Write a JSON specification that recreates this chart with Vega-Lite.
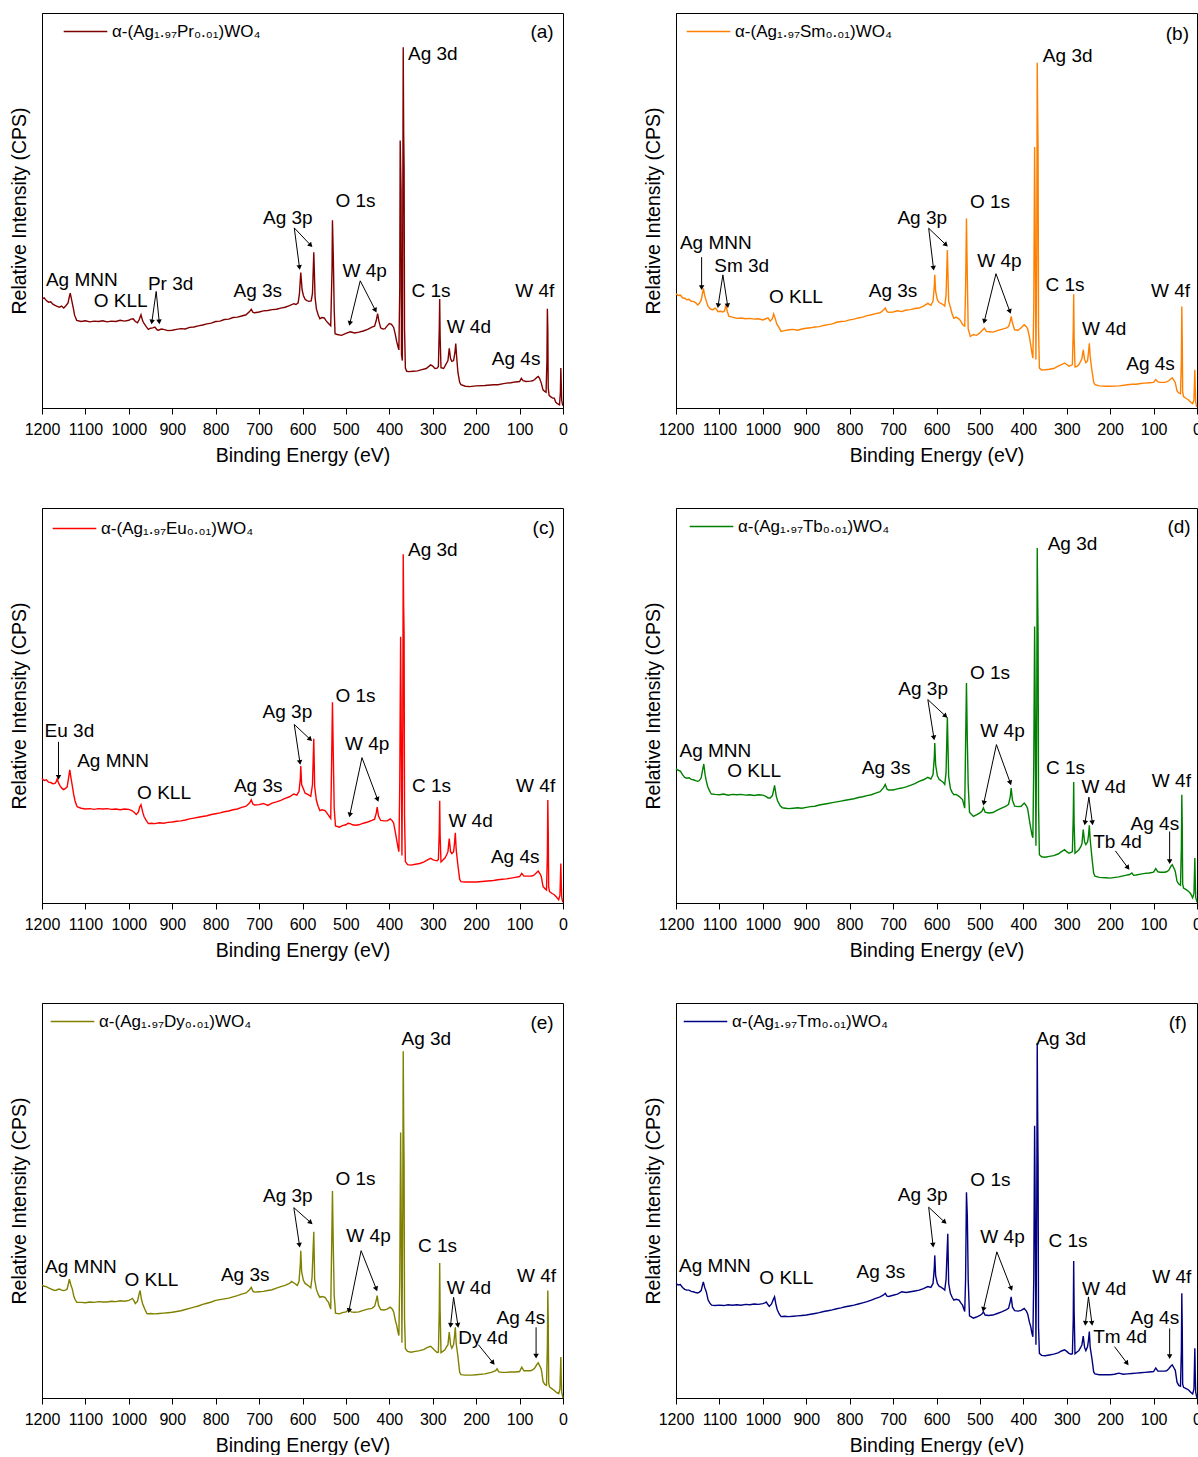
{
"$schema": "https://vega.github.io/schema/vega-lite/v6.json",
"padding": {"left": 8, "top": 8, "right": 0, "bottom": 0},
"background": "white",
"columns": 2,
"spacing": {"row": 100, "column": 113},
"bounds": "flush",
"resolve": {"scale": {"color": "independent"}, "legend": {"color": "independent"}},
"config": {
 "font": "Liberation Sans",
 "view": {"stroke": "black", "strokeWidth": 1},
 "axis": {"domainColor": "black", "tickColor": "black", "labelColor": "black", "titleColor": "black", "labelFont": "Liberation Sans", "titleFont": "Liberation Sans", "titleFontWeight": "normal", "grid": false},
 "axisX": {"values": [1200,1150,1100,1050,1000,950,900,850,800,750,700,650,600,550,500,450,400,350,300,250,200,150,100,50,0], "format": "d", "labelExpr": "datum.value % 100 == 0 ? datum.label : ''", "tickSize": {"condition": {"test": "datum.value % 100 == 0", "value": 6}, "value": 3}, "labelFontSize": 16, "titleFontSize": 19.5, "labelPadding": 7, "titlePadding": 9, "labelFlush": false, "labelOverlap": false},
 "axisY": {"labels": false, "ticks": false, "titleFontSize": 19.5, "titlePadding": 13},
 "text": {"font": "Liberation Sans", "fontSize": 19, "color": "black"},
 "legend": {"labelFont": "Liberation Sans"}
},
"datasets": {
"a": [{"e":1200,"i":27.6},{"e":1195,"i":27.9},{"e":1190,"i":27.2},{"e":1185,"i":26.8},{"e":1180,"i":26.9},{"e":1175,"i":26.3},{"e":1170,"i":26.0},{"e":1165,"i":25.7},{"e":1160,"i":25.5},{"e":1155,"i":25.8},{"e":1150,"i":25.3},{"e":1145,"i":25.9},{"e":1140,"i":26.6},{"e":1137,"i":28.2},{"e":1135,"i":29.1},{"e":1132,"i":27.5},{"e":1130,"i":26.4},{"e":1127,"i":24.8},{"e":1125,"i":23.5},{"e":1120,"i":22.2},{"e":1110,"i":21.9},{"e":1100,"i":22.1},{"e":1090,"i":21.8},{"e":1080,"i":22.0},{"e":1070,"i":21.9},{"e":1060,"i":22.1},{"e":1050,"i":21.8},{"e":1040,"i":22.0},{"e":1030,"i":21.9},{"e":1020,"i":22.2},{"e":1010,"i":22.0},{"e":1000,"i":22.2},{"e":995,"i":22.5},{"e":990,"i":22.6},{"e":985,"i":21.9},{"e":980,"i":21.6},{"e":976,"i":22.4},{"e":972,"i":23.6},{"e":968,"i":22.0},{"e":965,"i":21.4},{"e":960,"i":20.6},{"e":955,"i":19.9},{"e":950,"i":20.2},{"e":945,"i":20.3},{"e":940,"i":20.5},{"e":935,"i":19.8},{"e":932,"i":19.7},{"e":925,"i":20.0},{"e":920,"i":19.9},{"e":910,"i":19.6},{"e":900,"i":19.7},{"e":890,"i":19.9},{"e":880,"i":20.1},{"e":870,"i":20.0},{"e":860,"i":20.4},{"e":850,"i":20.5},{"e":840,"i":20.8},{"e":830,"i":21.0},{"e":820,"i":21.3},{"e":810,"i":21.5},{"e":800,"i":21.9},{"e":790,"i":22.0},{"e":780,"i":22.4},{"e":770,"i":22.5},{"e":760,"i":22.9},{"e":750,"i":23.0},{"e":740,"i":23.3},{"e":730,"i":23.6},{"e":722,"i":24.4},{"e":718,"i":25.0},{"e":714,"i":24.2},{"e":710,"i":24.1},{"e":700,"i":24.3},{"e":690,"i":24.6},{"e":680,"i":24.7},{"e":670,"i":24.9},{"e":660,"i":25.0},{"e":650,"i":25.3},{"e":640,"i":25.5},{"e":630,"i":25.9},{"e":620,"i":26.4},{"e":615,"i":26.2},{"e":610,"i":26.6},{"e":607,"i":29.0},{"e":604,"i":34.3},{"e":601,"i":30.0},{"e":598,"i":28.5},{"e":594,"i":27.5},{"e":590,"i":27.2},{"e":585,"i":27.0},{"e":580,"i":27.1},{"e":577,"i":29.0},{"e":574,"i":39.4},{"e":571,"i":28.0},{"e":568,"i":25.1},{"e":564,"i":23.6},{"e":560,"i":22.6},{"e":555,"i":22.9},{"e":550,"i":22.8},{"e":545,"i":22.0},{"e":540,"i":21.4},{"e":535,"i":20.8},{"e":532,"i":35.0},{"e":531,"i":47.5},{"e":529,"i":38.0},{"e":527,"i":25.0},{"e":525,"i":18.8},{"e":520,"i":18.6},{"e":510,"i":18.4},{"e":500,"i":18.9},{"e":490,"i":19.3},{"e":480,"i":19.0},{"e":470,"i":19.2},{"e":460,"i":19.5},{"e":450,"i":19.9},{"e":440,"i":20.5},{"e":434,"i":20.7},{"e":430,"i":22.2},{"e":427,"i":23.9},{"e":424,"i":22.0},{"e":420,"i":20.3},{"e":415,"i":20.0},{"e":410,"i":20.1},{"e":405,"i":20.8},{"e":400,"i":21.4},{"e":395,"i":21.2},{"e":390,"i":20.4},{"e":386,"i":18.5},{"e":383,"i":16.8},{"e":380,"i":15.5},{"e":378,"i":14.7},{"e":376,"i":30.0},{"e":375,"i":67.7},{"e":373,"i":55.0},{"e":372,"i":13.5},{"e":370,"i":12.0},{"e":369,"i":50.0},{"e":368,"i":91.3},{"e":367,"i":70.0},{"e":366,"i":61.1},{"e":365,"i":20.0},{"e":363,"i":10.1},{"e":360,"i":9.3},{"e":355,"i":9.2},{"e":345,"i":9.3},{"e":335,"i":9.4},{"e":325,"i":9.7},{"e":315,"i":10.0},{"e":305,"i":10.9},{"e":300,"i":10.6},{"e":295,"i":10.0},{"e":290,"i":10.1},{"e":287,"i":10.5},{"e":285,"i":20.0},{"e":284,"i":27.6},{"e":283,"i":18.0},{"e":281,"i":10.2},{"e":275,"i":10.0},{"e":270,"i":11.0},{"e":265,"i":12.0},{"e":262,"i":15.1},{"e":259,"i":12.5},{"e":256,"i":11.8},{"e":252,"i":12.0},{"e":249,"i":14.0},{"e":247,"i":16.3},{"e":245,"i":13.0},{"e":242,"i":9.0},{"e":238,"i":6.5},{"e":235,"i":5.9},{"e":225,"i":5.5},{"e":215,"i":5.4},{"e":200,"i":5.6},{"e":180,"i":5.7},{"e":160,"i":5.9},{"e":150,"i":5.9},{"e":140,"i":6.1},{"e":130,"i":6.3},{"e":120,"i":6.4},{"e":110,"i":6.6},{"e":100,"i":6.7},{"e":96,"i":7.5},{"e":92,"i":6.9},{"e":85,"i":6.7},{"e":75,"i":6.8},{"e":70,"i":6.9},{"e":65,"i":7.2},{"e":60,"i":7.8},{"e":57,"i":8.0},{"e":54,"i":7.5},{"e":50,"i":6.3},{"e":46,"i":4.6},{"e":42,"i":4.2},{"e":39,"i":4.0},{"e":37,"i":12.0},{"e":36,"i":25.1},{"e":35,"i":20.0},{"e":34,"i":5.0},{"e":32,"i":3.2},{"e":28,"i":2.8},{"e":24,"i":2.5},{"e":20,"i":2.5},{"e":17,"i":1.5},{"e":14,"i":1.2},{"e":10,"i":0.9},{"e":8,"i":0.8},{"e":6,"i":4.0},{"e":5,"i":10.1},{"e":4,"i":6.0},{"e":3,"i":2.0},{"e":1,"i":0.8},{"e":0,"i":0.6}],
"b": [{"e":1200,"i":28.9},{"e":1195,"i":28.5},{"e":1190,"i":28.6},{"e":1185,"i":27.9},{"e":1180,"i":27.8},{"e":1175,"i":27.4},{"e":1170,"i":27.5},{"e":1165,"i":27.0},{"e":1160,"i":27.0},{"e":1155,"i":26.7},{"e":1150,"i":26.1},{"e":1146,"i":26.5},{"e":1142,"i":27.3},{"e":1139,"i":29.0},{"e":1137,"i":30.3},{"e":1134,"i":28.5},{"e":1130,"i":27.0},{"e":1126,"i":25.7},{"e":1120,"i":25.0},{"e":1115,"i":24.9},{"e":1110,"i":25.3},{"e":1107,"i":25.0},{"e":1103,"i":24.4},{"e":1098,"i":24.5},{"e":1092,"i":24.3},{"e":1088,"i":24.6},{"e":1085,"i":26.1},{"e":1082,"i":24.5},{"e":1078,"i":23.2},{"e":1070,"i":23.0},{"e":1060,"i":22.7},{"e":1050,"i":22.8},{"e":1040,"i":22.6},{"e":1030,"i":22.7},{"e":1020,"i":22.5},{"e":1010,"i":22.6},{"e":1000,"i":22.3},{"e":993,"i":22.6},{"e":988,"i":22.8},{"e":983,"i":22.0},{"e":978,"i":22.6},{"e":975,"i":23.8},{"e":971,"i":22.5},{"e":968,"i":21.3},{"e":962,"i":20.2},{"e":958,"i":19.4},{"e":950,"i":19.6},{"e":940,"i":19.8},{"e":930,"i":19.9},{"e":920,"i":19.7},{"e":910,"i":20.0},{"e":900,"i":20.2},{"e":890,"i":20.3},{"e":880,"i":20.5},{"e":870,"i":20.6},{"e":860,"i":20.9},{"e":850,"i":21.1},{"e":840,"i":21.3},{"e":830,"i":21.7},{"e":820,"i":21.9},{"e":810,"i":22.0},{"e":800,"i":22.3},{"e":790,"i":22.5},{"e":780,"i":22.8},{"e":770,"i":23.0},{"e":760,"i":23.4},{"e":750,"i":23.6},{"e":740,"i":23.9},{"e":730,"i":24.1},{"e":722,"i":24.8},{"e":718,"i":25.3},{"e":714,"i":24.4},{"e":710,"i":24.2},{"e":700,"i":24.3},{"e":690,"i":24.6},{"e":680,"i":24.4},{"e":670,"i":24.8},{"e":660,"i":24.9},{"e":650,"i":25.2},{"e":640,"i":25.3},{"e":630,"i":25.8},{"e":620,"i":26.5},{"e":613,"i":26.0},{"e":608,"i":27.0},{"e":605,"i":31.0},{"e":604,"i":33.7},{"e":602,"i":29.5},{"e":598,"i":27.4},{"e":594,"i":26.7},{"e":590,"i":26.5},{"e":585,"i":26.2},{"e":581,"i":25.8},{"e":578,"i":28.5},{"e":575,"i":40.0},{"e":572,"i":27.0},{"e":568,"i":25.5},{"e":564,"i":23.8},{"e":560,"i":22.7},{"e":555,"i":23.0},{"e":548,"i":22.5},{"e":544,"i":22.0},{"e":540,"i":21.1},{"e":535,"i":20.7},{"e":533,"i":30.0},{"e":531,"i":48.0},{"e":529,"i":33.0},{"e":527,"i":20.0},{"e":522,"i":18.1},{"e":515,"i":18.6},{"e":508,"i":18.4},{"e":500,"i":19.0},{"e":495,"i":19.6},{"e":490,"i":20.2},{"e":485,"i":19.4},{"e":478,"i":19.3},{"e":470,"i":19.2},{"e":460,"i":19.6},{"e":450,"i":19.9},{"e":440,"i":20.2},{"e":434,"i":20.6},{"e":430,"i":22.0},{"e":428,"i":23.2},{"e":425,"i":21.5},{"e":420,"i":19.8},{"e":412,"i":19.7},{"e":405,"i":20.3},{"e":398,"i":21.1},{"e":393,"i":20.6},{"e":390,"i":20.0},{"e":386,"i":18.0},{"e":383,"i":16.0},{"e":380,"i":13.8},{"e":378,"i":12.6},{"e":376,"i":25.0},{"e":374,"i":66.1},{"e":373,"i":50.0},{"e":371,"i":12.3},{"e":369,"i":40.0},{"e":368,"i":87.4},{"e":367,"i":75.0},{"e":366,"i":65.3},{"e":365,"i":20.0},{"e":363,"i":10.1},{"e":358,"i":9.6},{"e":350,"i":9.7},{"e":340,"i":9.8},{"e":330,"i":10.0},{"e":320,"i":10.6},{"e":312,"i":11.0},{"e":305,"i":11.4},{"e":300,"i":11.0},{"e":295,"i":10.6},{"e":290,"i":10.8},{"e":287,"i":11.0},{"e":285,"i":20.0},{"e":284,"i":28.8},{"e":283,"i":18.0},{"e":281,"i":10.4},{"e":277,"i":10.5},{"e":272,"i":11.0},{"e":268,"i":11.8},{"e":265,"i":12.5},{"e":262,"i":14.7},{"e":259,"i":12.3},{"e":256,"i":11.5},{"e":252,"i":12.0},{"e":250,"i":14.0},{"e":248,"i":16.4},{"e":246,"i":13.0},{"e":242,"i":9.5},{"e":238,"i":6.5},{"e":235,"i":5.9},{"e":225,"i":5.6},{"e":210,"i":5.5},{"e":200,"i":5.5},{"e":180,"i":5.6},{"e":160,"i":5.9},{"e":150,"i":6.0},{"e":140,"i":6.0},{"e":130,"i":6.2},{"e":120,"i":6.3},{"e":110,"i":6.4},{"e":100,"i":6.5},{"e":95,"i":7.2},{"e":90,"i":6.6},{"e":85,"i":6.5},{"e":75,"i":6.5},{"e":70,"i":6.6},{"e":65,"i":6.9},{"e":60,"i":7.4},{"e":57,"i":7.6},{"e":53,"i":7.0},{"e":50,"i":6.4},{"e":46,"i":4.3},{"e":42,"i":3.8},{"e":38,"i":3.6},{"e":36,"i":12.0},{"e":35,"i":25.7},{"e":34,"i":18.0},{"e":33,"i":4.0},{"e":31,"i":2.9},{"e":25,"i":2.4},{"e":20,"i":2.1},{"e":15,"i":1.5},{"e":10,"i":1.1},{"e":7,"i":2.0},{"e":5,"i":9.7},{"e":4,"i":5.0},{"e":3,"i":1.5},{"e":1,"i":0.4},{"e":0,"i":0.3}],
"c": [{"e":1200,"i":31.5},{"e":1195,"i":31.0},{"e":1190,"i":31.2},{"e":1185,"i":30.6},{"e":1180,"i":30.5},{"e":1175,"i":30.2},{"e":1170,"i":30.3},{"e":1167,"i":30.8},{"e":1165,"i":31.4},{"e":1162,"i":30.4},{"e":1158,"i":29.6},{"e":1154,"i":29.0},{"e":1150,"i":28.7},{"e":1146,"i":29.0},{"e":1142,"i":29.4},{"e":1139,"i":31.5},{"e":1136,"i":33.7},{"e":1133,"i":31.5},{"e":1130,"i":29.5},{"e":1127,"i":27.5},{"e":1124,"i":25.9},{"e":1120,"i":24.6},{"e":1118,"i":24.3},{"e":1110,"i":24.0},{"e":1100,"i":23.8},{"e":1090,"i":23.9},{"e":1080,"i":23.7},{"e":1070,"i":23.9},{"e":1060,"i":23.8},{"e":1050,"i":23.9},{"e":1040,"i":23.7},{"e":1030,"i":23.8},{"e":1020,"i":23.6},{"e":1010,"i":23.8},{"e":1000,"i":23.7},{"e":993,"i":23.4},{"e":988,"i":23.0},{"e":983,"i":22.4},{"e":978,"i":23.0},{"e":975,"i":24.3},{"e":972,"i":24.9},{"e":968,"i":23.0},{"e":965,"i":21.9},{"e":960,"i":20.9},{"e":955,"i":20.1},{"e":948,"i":20.2},{"e":940,"i":20.1},{"e":930,"i":20.3},{"e":920,"i":20.2},{"e":910,"i":20.4},{"e":900,"i":20.5},{"e":890,"i":20.7},{"e":880,"i":20.8},{"e":870,"i":21.0},{"e":860,"i":21.3},{"e":850,"i":21.5},{"e":840,"i":21.7},{"e":830,"i":21.9},{"e":820,"i":22.1},{"e":810,"i":22.4},{"e":800,"i":22.6},{"e":790,"i":22.8},{"e":780,"i":23.1},{"e":770,"i":23.3},{"e":760,"i":23.6},{"e":750,"i":23.8},{"e":740,"i":24.2},{"e":730,"i":24.5},{"e":722,"i":25.3},{"e":718,"i":26.1},{"e":714,"i":25.0},{"e":710,"i":24.8},{"e":700,"i":24.9},{"e":690,"i":25.2},{"e":680,"i":24.7},{"e":670,"i":25.3},{"e":660,"i":25.6},{"e":650,"i":26.0},{"e":640,"i":26.5},{"e":630,"i":26.9},{"e":620,"i":27.6},{"e":613,"i":27.3},{"e":608,"i":28.3},{"e":605,"i":31.5},{"e":604,"i":34.7},{"e":602,"i":30.0},{"e":598,"i":28.9},{"e":594,"i":27.8},{"e":590,"i":27.6},{"e":585,"i":27.3},{"e":581,"i":27.0},{"e":577,"i":30.0},{"e":574,"i":41.6},{"e":572,"i":29.5},{"e":568,"i":26.0},{"e":564,"i":24.5},{"e":560,"i":23.4},{"e":555,"i":23.6},{"e":548,"i":23.4},{"e":544,"i":22.8},{"e":540,"i":22.2},{"e":535,"i":21.4},{"e":533,"i":35.0},{"e":531,"i":50.8},{"e":529,"i":37.0},{"e":527,"i":24.0},{"e":524,"i":19.5},{"e":515,"i":19.2},{"e":508,"i":19.6},{"e":500,"i":19.8},{"e":495,"i":20.2},{"e":490,"i":20.1},{"e":485,"i":19.8},{"e":478,"i":19.7},{"e":470,"i":19.8},{"e":460,"i":20.2},{"e":450,"i":20.5},{"e":440,"i":20.9},{"e":434,"i":21.2},{"e":430,"i":22.8},{"e":428,"i":24.3},{"e":425,"i":22.0},{"e":420,"i":20.9},{"e":412,"i":20.8},{"e":405,"i":20.8},{"e":398,"i":21.3},{"e":393,"i":20.8},{"e":390,"i":20.2},{"e":386,"i":17.8},{"e":383,"i":15.9},{"e":380,"i":14.0},{"e":378,"i":13.0},{"e":376,"i":30.0},{"e":374,"i":67.4},{"e":373,"i":52.0},{"e":371,"i":12.0},{"e":369,"i":45.0},{"e":368,"i":88.3},{"e":367,"i":75.0},{"e":366,"i":68.2},{"e":365,"i":22.0},{"e":363,"i":10.5},{"e":358,"i":9.7},{"e":350,"i":9.6},{"e":340,"i":9.8},{"e":330,"i":10.0},{"e":320,"i":10.4},{"e":312,"i":10.9},{"e":305,"i":11.3},{"e":300,"i":11.0},{"e":295,"i":10.8},{"e":290,"i":10.7},{"e":287,"i":11.0},{"e":285,"i":18.0},{"e":284,"i":25.9},{"e":283,"i":17.0},{"e":281,"i":10.4},{"e":277,"i":10.8},{"e":272,"i":11.4},{"e":268,"i":12.2},{"e":265,"i":13.0},{"e":262,"i":16.3},{"e":259,"i":13.0},{"e":256,"i":12.5},{"e":252,"i":13.0},{"e":250,"i":15.0},{"e":248,"i":17.8},{"e":246,"i":13.5},{"e":242,"i":9.5},{"e":238,"i":6.0},{"e":235,"i":5.4},{"e":225,"i":5.3},{"e":210,"i":5.3},{"e":200,"i":5.3},{"e":180,"i":5.5},{"e":160,"i":5.7},{"e":150,"i":5.9},{"e":140,"i":6.0},{"e":130,"i":6.1},{"e":120,"i":6.3},{"e":110,"i":6.5},{"e":100,"i":6.7},{"e":95,"i":7.5},{"e":90,"i":6.8},{"e":85,"i":6.8},{"e":75,"i":6.8},{"e":70,"i":6.9},{"e":65,"i":7.2},{"e":60,"i":7.8},{"e":57,"i":8.1},{"e":53,"i":7.4},{"e":50,"i":6.7},{"e":46,"i":4.2},{"e":42,"i":3.7},{"e":38,"i":3.3},{"e":36,"i":12.0},{"e":35,"i":26.1},{"e":34,"i":18.0},{"e":33,"i":4.0},{"e":31,"i":2.9},{"e":25,"i":2.4},{"e":20,"i":2.1},{"e":15,"i":1.5},{"e":10,"i":0.8},{"e":7,"i":2.0},{"e":5,"i":10.0},{"e":4,"i":5.0},{"e":3,"i":1.5},{"e":1,"i":0.4},{"e":0,"i":0.2}],
"d": [{"e":1200,"i":34.0},{"e":1195,"i":33.6},{"e":1190,"i":33.4},{"e":1185,"i":32.5},{"e":1180,"i":31.8},{"e":1175,"i":31.6},{"e":1170,"i":31.7},{"e":1165,"i":31.3},{"e":1160,"i":31.2},{"e":1155,"i":31.0},{"e":1150,"i":30.8},{"e":1146,"i":31.0},{"e":1142,"i":31.7},{"e":1139,"i":33.5},{"e":1136,"i":35.2},{"e":1133,"i":32.5},{"e":1130,"i":30.8},{"e":1127,"i":29.5},{"e":1124,"i":28.7},{"e":1120,"i":27.8},{"e":1118,"i":27.6},{"e":1110,"i":27.5},{"e":1100,"i":27.4},{"e":1090,"i":27.6},{"e":1080,"i":27.3},{"e":1070,"i":27.5},{"e":1060,"i":27.4},{"e":1050,"i":27.5},{"e":1040,"i":27.3},{"e":1030,"i":27.4},{"e":1020,"i":27.2},{"e":1010,"i":27.4},{"e":1000,"i":27.3},{"e":993,"i":27.0},{"e":988,"i":26.6},{"e":983,"i":26.6},{"e":978,"i":27.2},{"e":975,"i":28.6},{"e":973,"i":29.8},{"e":969,"i":27.0},{"e":966,"i":25.9},{"e":960,"i":24.6},{"e":955,"i":24.1},{"e":948,"i":24.0},{"e":940,"i":23.9},{"e":930,"i":24.0},{"e":920,"i":24.1},{"e":910,"i":24.0},{"e":900,"i":24.2},{"e":890,"i":24.4},{"e":880,"i":24.5},{"e":870,"i":24.8},{"e":860,"i":25.0},{"e":850,"i":25.2},{"e":840,"i":25.4},{"e":830,"i":25.6},{"e":820,"i":25.8},{"e":810,"i":26.0},{"e":800,"i":26.2},{"e":790,"i":26.4},{"e":780,"i":26.7},{"e":770,"i":26.9},{"e":760,"i":27.2},{"e":750,"i":27.4},{"e":740,"i":27.8},{"e":730,"i":28.2},{"e":722,"i":29.2},{"e":718,"i":30.0},{"e":714,"i":28.8},{"e":710,"i":28.6},{"e":700,"i":28.6},{"e":690,"i":28.9},{"e":680,"i":29.1},{"e":670,"i":29.4},{"e":660,"i":29.8},{"e":650,"i":30.2},{"e":640,"i":30.8},{"e":630,"i":31.2},{"e":620,"i":31.8},{"e":613,"i":31.4},{"e":608,"i":32.5},{"e":605,"i":37.0},{"e":604,"i":40.5},{"e":602,"i":35.0},{"e":598,"i":32.2},{"e":594,"i":31.3},{"e":590,"i":31.0},{"e":585,"i":30.6},{"e":581,"i":30.0},{"e":578,"i":33.0},{"e":575,"i":47.0},{"e":572,"i":32.0},{"e":568,"i":29.0},{"e":564,"i":28.0},{"e":560,"i":27.4},{"e":555,"i":27.5},{"e":548,"i":27.0},{"e":544,"i":26.6},{"e":540,"i":26.2},{"e":535,"i":24.0},{"e":533,"i":40.0},{"e":531,"i":55.7},{"e":529,"i":41.0},{"e":527,"i":30.0},{"e":524,"i":23.0},{"e":515,"i":21.9},{"e":508,"i":22.3},{"e":500,"i":22.8},{"e":495,"i":23.3},{"e":492,"i":24.1},{"e":488,"i":23.0},{"e":480,"i":22.8},{"e":470,"i":22.9},{"e":460,"i":23.5},{"e":450,"i":24.0},{"e":440,"i":24.5},{"e":434,"i":25.0},{"e":430,"i":27.0},{"e":428,"i":29.1},{"e":425,"i":26.0},{"e":420,"i":24.5},{"e":412,"i":24.4},{"e":405,"i":24.5},{"e":398,"i":25.3},{"e":393,"i":24.6},{"e":390,"i":23.8},{"e":386,"i":21.0},{"e":383,"i":19.0},{"e":380,"i":17.2},{"e":378,"i":16.5},{"e":376,"i":35.0},{"e":374,"i":70.0},{"e":373,"i":55.0},{"e":371,"i":14.5},{"e":369,"i":50.0},{"e":368,"i":89.9},{"e":367,"i":78.0},{"e":366,"i":67.9},{"e":365,"i":25.0},{"e":363,"i":12.2},{"e":358,"i":11.7},{"e":350,"i":11.6},{"e":340,"i":11.8},{"e":330,"i":12.0},{"e":320,"i":12.4},{"e":312,"i":13.0},{"e":305,"i":13.5},{"e":300,"i":13.0},{"e":295,"i":12.6},{"e":290,"i":12.8},{"e":287,"i":13.0},{"e":285,"i":22.0},{"e":284,"i":30.6},{"e":283,"i":20.0},{"e":281,"i":12.6},{"e":277,"i":13.0},{"e":272,"i":13.5},{"e":268,"i":14.2},{"e":265,"i":15.0},{"e":262,"i":18.6},{"e":259,"i":15.5},{"e":256,"i":14.8},{"e":252,"i":15.5},{"e":250,"i":17.0},{"e":248,"i":19.7},{"e":246,"i":16.0},{"e":242,"i":11.5},{"e":238,"i":7.5},{"e":235,"i":6.8},{"e":225,"i":6.5},{"e":210,"i":6.4},{"e":200,"i":6.3},{"e":180,"i":6.6},{"e":165,"i":7.0},{"e":155,"i":7.2},{"e":150,"i":7.6},{"e":146,"i":7.0},{"e":140,"i":7.1},{"e":130,"i":7.3},{"e":120,"i":7.5},{"e":110,"i":7.6},{"e":100,"i":7.8},{"e":95,"i":8.7},{"e":90,"i":7.9},{"e":85,"i":7.8},{"e":75,"i":7.8},{"e":70,"i":7.9},{"e":65,"i":8.3},{"e":60,"i":9.3},{"e":57,"i":9.7},{"e":53,"i":8.8},{"e":50,"i":8.0},{"e":46,"i":5.5},{"e":42,"i":4.8},{"e":38,"i":4.5},{"e":36,"i":14.0},{"e":35,"i":27.4},{"e":34,"i":20.0},{"e":33,"i":4.8},{"e":31,"i":3.8},{"e":25,"i":3.4},{"e":20,"i":3.0},{"e":15,"i":2.4},{"e":10,"i":1.3},{"e":7,"i":2.5},{"e":5,"i":11.4},{"e":4,"i":6.0},{"e":3,"i":1.5},{"e":1,"i":0.6},{"e":0,"i":0.2}],
"e": [{"e":1200,"i":28.6},{"e":1195,"i":28.3},{"e":1190,"i":28.2},{"e":1185,"i":27.9},{"e":1180,"i":27.6},{"e":1175,"i":27.4},{"e":1170,"i":27.2},{"e":1165,"i":27.4},{"e":1160,"i":27.6},{"e":1155,"i":27.3},{"e":1150,"i":27.2},{"e":1146,"i":27.3},{"e":1142,"i":27.6},{"e":1139,"i":29.0},{"e":1137,"i":30.1},{"e":1134,"i":28.8},{"e":1130,"i":27.5},{"e":1127,"i":25.9},{"e":1124,"i":25.0},{"e":1120,"i":24.2},{"e":1110,"i":24.2},{"e":1100,"i":24.1},{"e":1090,"i":24.3},{"e":1080,"i":24.2},{"e":1070,"i":24.4},{"e":1060,"i":24.3},{"e":1050,"i":24.3},{"e":1040,"i":24.5},{"e":1030,"i":24.4},{"e":1020,"i":24.6},{"e":1010,"i":24.5},{"e":1000,"i":24.7},{"e":995,"i":25.0},{"e":992,"i":25.2},{"e":988,"i":24.6},{"e":985,"i":23.9},{"e":980,"i":24.5},{"e":976,"i":26.5},{"e":974,"i":27.2},{"e":971,"i":25.0},{"e":968,"i":23.8},{"e":963,"i":22.4},{"e":958,"i":21.3},{"e":950,"i":21.4},{"e":940,"i":21.3},{"e":930,"i":21.4},{"e":920,"i":21.5},{"e":910,"i":21.6},{"e":900,"i":21.7},{"e":890,"i":21.9},{"e":880,"i":22.1},{"e":870,"i":22.4},{"e":860,"i":22.7},{"e":850,"i":23.0},{"e":840,"i":23.3},{"e":830,"i":23.7},{"e":820,"i":24.0},{"e":810,"i":24.3},{"e":800,"i":24.7},{"e":790,"i":24.9},{"e":780,"i":25.1},{"e":770,"i":25.3},{"e":760,"i":25.6},{"e":750,"i":25.9},{"e":740,"i":26.3},{"e":730,"i":26.6},{"e":722,"i":27.4},{"e":718,"i":28.0},{"e":714,"i":27.0},{"e":710,"i":26.8},{"e":700,"i":26.9},{"e":690,"i":27.0},{"e":680,"i":27.2},{"e":670,"i":27.4},{"e":660,"i":27.8},{"e":650,"i":28.2},{"e":640,"i":28.5},{"e":630,"i":29.0},{"e":625,"i":29.5},{"e":618,"i":29.0},{"e":612,"i":28.5},{"e":608,"i":29.5},{"e":605,"i":34.0},{"e":604,"i":37.3},{"e":602,"i":32.0},{"e":598,"i":29.8},{"e":594,"i":29.0},{"e":590,"i":28.7},{"e":585,"i":28.3},{"e":581,"i":27.9},{"e":578,"i":30.5},{"e":574,"i":42.1},{"e":572,"i":30.0},{"e":568,"i":27.5},{"e":564,"i":26.3},{"e":560,"i":25.5},{"e":555,"i":25.7},{"e":548,"i":25.5},{"e":544,"i":24.8},{"e":540,"i":24.2},{"e":535,"i":22.5},{"e":533,"i":37.0},{"e":531,"i":52.4},{"e":529,"i":38.0},{"e":527,"i":26.0},{"e":524,"i":21.5},{"e":515,"i":21.3},{"e":508,"i":21.6},{"e":500,"i":21.8},{"e":495,"i":22.2},{"e":492,"i":22.4},{"e":488,"i":21.8},{"e":480,"i":21.7},{"e":470,"i":21.8},{"e":460,"i":22.2},{"e":450,"i":22.5},{"e":440,"i":22.7},{"e":434,"i":23.2},{"e":430,"i":24.8},{"e":428,"i":25.9},{"e":425,"i":23.5},{"e":420,"i":22.4},{"e":412,"i":22.3},{"e":405,"i":22.5},{"e":398,"i":23.0},{"e":393,"i":22.5},{"e":390,"i":21.8},{"e":386,"i":19.6},{"e":383,"i":18.4},{"e":380,"i":16.6},{"e":378,"i":15.8},{"e":376,"i":30.0},{"e":374,"i":67.2},{"e":373,"i":52.0},{"e":371,"i":14.0},{"e":369,"i":48.0},{"e":368,"i":87.8},{"e":367,"i":70.0},{"e":366,"i":59.2},{"e":365,"i":20.0},{"e":363,"i":12.5},{"e":358,"i":11.8},{"e":350,"i":11.6},{"e":340,"i":11.8},{"e":330,"i":12.0},{"e":320,"i":12.3},{"e":312,"i":12.8},{"e":305,"i":13.1},{"e":300,"i":12.6},{"e":295,"i":12.0},{"e":290,"i":11.5},{"e":287,"i":11.6},{"e":285,"i":22.0},{"e":284,"i":34.2},{"e":283,"i":22.0},{"e":281,"i":11.5},{"e":277,"i":11.8},{"e":272,"i":12.2},{"e":268,"i":13.0},{"e":265,"i":13.5},{"e":262,"i":16.7},{"e":259,"i":13.5},{"e":256,"i":12.6},{"e":252,"i":13.5},{"e":250,"i":15.5},{"e":248,"i":17.9},{"e":246,"i":13.8},{"e":242,"i":10.5},{"e":238,"i":6.5},{"e":235,"i":5.9},{"e":225,"i":5.8},{"e":210,"i":5.8},{"e":200,"i":5.9},{"e":180,"i":6.1},{"e":165,"i":6.5},{"e":155,"i":6.9},{"e":152,"i":7.4},{"e":148,"i":6.6},{"e":140,"i":6.5},{"e":130,"i":6.5},{"e":120,"i":6.6},{"e":110,"i":6.6},{"e":100,"i":6.7},{"e":95,"i":7.8},{"e":90,"i":6.9},{"e":85,"i":6.9},{"e":75,"i":6.9},{"e":70,"i":7.1},{"e":65,"i":7.6},{"e":60,"i":8.5},{"e":57,"i":8.9},{"e":53,"i":8.0},{"e":50,"i":7.3},{"e":46,"i":4.2},{"e":42,"i":3.4},{"e":38,"i":3.2},{"e":36,"i":13.0},{"e":35,"i":27.2},{"e":34,"i":20.0},{"e":33,"i":3.8},{"e":31,"i":2.8},{"e":25,"i":2.3},{"e":20,"i":1.9},{"e":15,"i":1.4},{"e":10,"i":1.1},{"e":7,"i":2.2},{"e":5,"i":10.4},{"e":4,"i":5.0},{"e":3,"i":1.5},{"e":1,"i":0.5},{"e":0,"i":0.0}],
"f": [{"e":1200,"i":29.0},{"e":1195,"i":28.6},{"e":1190,"i":28.7},{"e":1185,"i":28.0},{"e":1180,"i":27.5},{"e":1175,"i":27.3},{"e":1170,"i":27.3},{"e":1165,"i":27.0},{"e":1160,"i":26.9},{"e":1155,"i":26.7},{"e":1150,"i":26.6},{"e":1146,"i":26.8},{"e":1142,"i":27.2},{"e":1139,"i":28.6},{"e":1137,"i":29.4},{"e":1134,"i":28.0},{"e":1130,"i":26.8},{"e":1126,"i":24.8},{"e":1122,"i":24.0},{"e":1118,"i":23.5},{"e":1110,"i":23.4},{"e":1100,"i":23.5},{"e":1090,"i":23.4},{"e":1080,"i":23.6},{"e":1070,"i":23.5},{"e":1060,"i":23.6},{"e":1050,"i":23.5},{"e":1040,"i":23.7},{"e":1030,"i":23.6},{"e":1020,"i":23.8},{"e":1010,"i":23.7},{"e":1000,"i":23.9},{"e":995,"i":24.1},{"e":992,"i":24.3},{"e":988,"i":23.6},{"e":985,"i":23.2},{"e":980,"i":23.8},{"e":976,"i":24.9},{"e":973,"i":25.6},{"e":970,"i":23.8},{"e":967,"i":22.4},{"e":962,"i":21.2},{"e":958,"i":20.6},{"e":950,"i":20.7},{"e":940,"i":20.6},{"e":930,"i":20.7},{"e":920,"i":20.8},{"e":910,"i":20.9},{"e":900,"i":21.0},{"e":890,"i":21.2},{"e":880,"i":21.4},{"e":870,"i":21.6},{"e":860,"i":21.9},{"e":850,"i":22.1},{"e":840,"i":22.3},{"e":830,"i":22.6},{"e":820,"i":22.8},{"e":810,"i":23.1},{"e":800,"i":23.3},{"e":790,"i":23.5},{"e":780,"i":23.8},{"e":770,"i":24.1},{"e":760,"i":24.4},{"e":750,"i":24.8},{"e":740,"i":25.2},{"e":730,"i":25.6},{"e":722,"i":26.1},{"e":718,"i":26.5},{"e":714,"i":25.8},{"e":710,"i":25.7},{"e":700,"i":26.0},{"e":690,"i":26.3},{"e":680,"i":26.9},{"e":670,"i":26.7},{"e":660,"i":26.9},{"e":650,"i":27.1},{"e":640,"i":27.3},{"e":630,"i":27.7},{"e":620,"i":28.2},{"e":613,"i":28.0},{"e":608,"i":29.0},{"e":605,"i":33.0},{"e":604,"i":36.1},{"e":602,"i":31.0},{"e":598,"i":29.0},{"e":594,"i":28.3},{"e":590,"i":28.1},{"e":585,"i":27.7},{"e":581,"i":27.3},{"e":578,"i":30.0},{"e":574,"i":41.6},{"e":572,"i":29.0},{"e":568,"i":26.5},{"e":564,"i":25.5},{"e":560,"i":24.8},{"e":555,"i":25.0},{"e":548,"i":24.8},{"e":544,"i":24.1},{"e":540,"i":23.5},{"e":535,"i":21.9},{"e":533,"i":30.0},{"e":531,"i":52.1},{"e":529,"i":46.0},{"e":527,"i":30.0},{"e":524,"i":20.8},{"e":515,"i":20.2},{"e":508,"i":20.5},{"e":500,"i":20.9},{"e":495,"i":21.3},{"e":492,"i":21.8},{"e":488,"i":21.0},{"e":480,"i":20.9},{"e":470,"i":21.0},{"e":460,"i":21.4},{"e":450,"i":21.8},{"e":440,"i":22.3},{"e":434,"i":22.7},{"e":430,"i":24.5},{"e":428,"i":25.6},{"e":425,"i":23.0},{"e":420,"i":22.1},{"e":412,"i":22.0},{"e":405,"i":22.2},{"e":398,"i":22.7},{"e":393,"i":22.0},{"e":390,"i":21.3},{"e":386,"i":19.2},{"e":383,"i":18.1},{"e":380,"i":16.3},{"e":378,"i":15.5},{"e":376,"i":30.0},{"e":374,"i":68.9},{"e":373,"i":54.0},{"e":371,"i":13.5},{"e":369,"i":50.0},{"e":368,"i":89.9},{"e":367,"i":72.0},{"e":366,"i":59.2},{"e":365,"i":18.0},{"e":363,"i":11.3},{"e":358,"i":10.8},{"e":350,"i":10.7},{"e":340,"i":10.9},{"e":330,"i":11.1},{"e":320,"i":11.4},{"e":312,"i":11.9},{"e":305,"i":12.2},{"e":300,"i":11.8},{"e":295,"i":11.3},{"e":290,"i":11.1},{"e":287,"i":11.2},{"e":285,"i":20.0},{"e":284,"i":34.7},{"e":283,"i":22.0},{"e":281,"i":11.2},{"e":277,"i":11.6},{"e":272,"i":12.0},{"e":268,"i":12.8},{"e":265,"i":13.5},{"e":262,"i":15.7},{"e":259,"i":12.8},{"e":256,"i":12.0},{"e":252,"i":13.0},{"e":250,"i":14.6},{"e":248,"i":16.8},{"e":246,"i":12.8},{"e":242,"i":10.0},{"e":238,"i":6.6},{"e":235,"i":6.1},{"e":225,"i":5.9},{"e":210,"i":5.9},{"e":200,"i":5.9},{"e":190,"i":6.0},{"e":180,"i":6.3},{"e":170,"i":6.0},{"e":160,"i":6.1},{"e":150,"i":6.2},{"e":140,"i":6.3},{"e":130,"i":6.4},{"e":120,"i":6.5},{"e":110,"i":6.6},{"e":100,"i":6.7},{"e":95,"i":7.6},{"e":90,"i":6.8},{"e":85,"i":6.8},{"e":75,"i":6.8},{"e":70,"i":6.9},{"e":65,"i":7.4},{"e":60,"i":8.1},{"e":57,"i":8.4},{"e":53,"i":7.6},{"e":50,"i":7.0},{"e":46,"i":4.0},{"e":42,"i":3.2},{"e":38,"i":3.0},{"e":36,"i":12.0},{"e":35,"i":26.5},{"e":34,"i":18.0},{"e":33,"i":3.5},{"e":31,"i":2.7},{"e":25,"i":2.4},{"e":20,"i":2.1},{"e":15,"i":1.5},{"e":10,"i":1.0},{"e":7,"i":2.3},{"e":5,"i":12.6},{"e":4,"i":6.0},{"e":3,"i":1.5},{"e":1,"i":0.4},{"e":0,"i":0.0}],
"aT": [{"e":1191,"i":32.4,"t":"Ag MNN"},{"e":1081,"i":27.2,"t":"O KLL"},{"e":956,"i":31.4,"t":"Pr 3d"},{"e":759,"i":29.6,"t":"Ag 3s"},{"e":691,"i":48.2,"t":"Ag 3p"},{"e":524,"i":52.3,"t":"O 1s"},{"e":508,"i":34.8,"t":"W 4p"},{"e":357,"i":89.6,"t":"Ag 3d"},{"e":349,"i":29.7,"t":"C 1s"},{"e":268,"i":20.5,"t":"W 4d"},{"e":164,"i":12.4,"t":"Ag 4s"},{"e":110,"i":29.5,"t":"W 4f"},{"e":75,"i":95.1,"t":"(a)"}],
"bT": [{"e":1191,"i":41.7,"t":"Ag MNN"},{"e":1112,"i":36.0,"t":"Sm 3d"},{"e":986,"i":28.1,"t":"O KLL"},{"e":756,"i":29.5,"t":"Ag 3s"},{"e":690,"i":48.2,"t":"Ag 3p"},{"e":523,"i":52.2,"t":"O 1s"},{"e":506,"i":37.1,"t":"W 4p"},{"e":355,"i":89.0,"t":"Ag 3d"},{"e":349,"i":31.1,"t":"C 1s"},{"e":265,"i":20.1,"t":"W 4d"},{"e":163,"i":11.1,"t":"Ag 4s"},{"e":106,"i":29.7,"t":"W 4f"},{"e":72,"i":94.8,"t":"(b)"}],
"cT": [{"e":1194,"i":43.5,"t":"Eu 3d"},{"e":1119,"i":36.0,"t":"Ag MNN"},{"e":981,"i":27.9,"t":"O KLL"},{"e":758,"i":29.7,"t":"Ag 3s"},{"e":692,"i":48.3,"t":"Ag 3p"},{"e":524,"i":52.3,"t":"O 1s"},{"e":502,"i":40.2,"t":"W 4p"},{"e":357,"i":89.3,"t":"Ag 3d"},{"e":348,"i":29.7,"t":"C 1s"},{"e":264,"i":20.7,"t":"W 4d"},{"e":166,"i":11.7,"t":"Ag 4s"},{"e":108,"i":29.5,"t":"W 4f"},{"e":70,"i":95.0,"t":"(c)"}],
"dT": [{"e":1192,"i":38.6,"t":"Ag MNN"},{"e":1082,"i":33.5,"t":"O KLL"},{"e":772,"i":34.2,"t":"Ag 3s"},{"e":688,"i":54.3,"t":"Ag 3p"},{"e":523,"i":58.2,"t":"O 1s"},{"e":499,"i":43.6,"t":"W 4p"},{"e":344,"i":90.9,"t":"Ag 3d"},{"e":348,"i":34.2,"t":"C 1s"},{"e":266,"i":29.3,"t":"W 4d"},{"e":153,"i":20.0,"t":"Ag 4s"},{"e":239,"i":15.4,"t":"Tb 4d"},{"e":104,"i":31.0,"t":"W 4f"},{"e":68,"i":95.1,"t":"(d)"}],
"eT": [{"e":1193,"i":33.2,"t":"Ag MNN"},{"e":1010,"i":29.9,"t":"O KLL"},{"e":788,"i":31.1,"t":"Ag 3s"},{"e":691,"i":51.2,"t":"Ag 3p"},{"e":524,"i":55.4,"t":"O 1s"},{"e":499,"i":40.9,"t":"W 4p"},{"e":372,"i":90.9,"t":"Ag 3d"},{"e":334,"i":38.4,"t":"C 1s"},{"e":268,"i":27.9,"t":"W 4d"},{"e":153,"i":20.2,"t":"Ag 4s"},{"e":241,"i":15.2,"t":"Dy 4d"},{"e":106,"i":31.0,"t":"W 4f"},{"e":75,"i":95.0,"t":"(e)"}],
"fT": [{"e":1193,"i":33.4,"t":"Ag MNN"},{"e":1008,"i":30.3,"t":"O KLL"},{"e":784,"i":31.9,"t":"Ag 3s"},{"e":689,"i":51.3,"t":"Ag 3p"},{"e":522,"i":55.2,"t":"O 1s"},{"e":499,"i":40.8,"t":"W 4p"},{"e":370,"i":90.8,"t":"Ag 3d"},{"e":342,"i":39.7,"t":"C 1s"},{"e":265,"i":27.7,"t":"W 4d"},{"e":153,"i":20.2,"t":"Ag 4s"},{"e":239,"i":15.4,"t":"Tm 4d"},{"e":103,"i":30.7,"t":"W 4f"},{"e":65,"i":95.0,"t":"(f)"}],
"aA": [{"e":937,"i":29.5,"e2":947,"i2":21.8},{"e":937,"i":29.5,"e2":930,"i2":21.8},{"e":619,"i":45.6,"e2":607,"i2":35.6},{"e":619,"i":45.6,"e2":581,"i2":41.2},{"e":467,"i":32.2,"e2":491,"i2":21.4},{"e":467,"i":32.2,"e2":432,"i2":24.7}],
"bA": [{"e":1141,"i":38.2,"e2":1141,"i2":30.5},{"e":1092,"i":33.7,"e2":1103,"i2":25.9},{"e":1092,"i":33.7,"e2":1081,"i2":25.9},{"e":618,"i":45.5,"e2":607,"i2":35.4},{"e":618,"i":45.5,"e2":578,"i2":41.3},{"e":463,"i":34.0,"e2":490,"i2":21.9},{"e":463,"i":34.0,"e2":431,"i2":24.4}],
"cA": [{"e":1162,"i":40.8,"e2":1162,"i2":31.8},{"e":619,"i":45.2,"e2":606,"i2":35.6},{"e":619,"i":45.2,"e2":582,"i2":41.4},{"e":463,"i":36.8,"e2":491,"i2":22.3},{"e":463,"i":36.8,"e2":427,"i2":26.2}],
"dA": [{"e":620,"i":51.5,"e2":606,"i2":41.8},{"e":620,"i":51.5,"e2":579,"i2":47.3},{"e":462,"i":40.1,"e2":491,"i2":25.3},{"e":462,"i":40.1,"e2":430,"i2":30.4},{"e":249,"i":26.8,"e2":258,"i2":20.3},{"e":249,"i":26.8,"e2":241,"i2":20.3},{"e":188,"i":13.2,"e2":159,"i2":8.9},{"e":63,"i":18.1,"e2":63,"i2":10.5}],
"eA": [{"e":620,"i":48.2,"e2":607,"i2":38.7},{"e":620,"i":48.2,"e2":581,"i2":44.4},{"e":465,"i":37.3,"e2":493,"i2":22.1},{"e":465,"i":37.3,"e2":430,"i2":27.6},{"e":252,"i":25.5,"e2":259,"i2":18.4},{"e":252,"i":25.5,"e2":242,"i2":18.4},{"e":195,"i":13.5,"e2":161,"i2":8.9},{"e":62,"i":17.9,"e2":62,"i2":10.6}],
"fA": [{"e":618,"i":48.3,"e2":608,"i2":38.7},{"e":618,"i":48.3,"e2":581,"i2":44.5},{"e":461,"i":37.0,"e2":492,"i2":22.4},{"e":461,"i":37.0,"e2":428,"i2":27.7},{"e":250,"i":25.6,"e2":257,"i2":18.9},{"e":250,"i":25.6,"e2":242,"i2":18.9},{"e":190,"i":13.0,"e2":161,"i2":8.8},{"e":63,"i":17.6,"e2":63,"i2":10.5}]
},
"concat": [
{"width": 521, "height": 395,
 "encoding": {"x": {"field": "e", "type": "quantitative", "title": "Binding Energy (eV)", "scale": {"domain": [1200, 0], "nice": false, "zero": false}}, "y": {"field": "i", "type": "quantitative", "title": "Relative Intensity (CPS)", "scale": {"domain": [0, 100], "nice": false}}},
 "layer": [
  {"data": {"name": "a"}, "mark": {"type": "line", "strokeWidth": 1.4}, "encoding": {"color": {"datum": "α-(Ag₁.₉₇Pr₀.₀₁)WO₄", "type": "nominal", "scale": {"range": ["#800000"]}, "legend": {"orient": "none", "legendX": 21, "legendY": -4, "title": null, "symbolType": "stroke", "symbolSize": 1900, "symbolStrokeWidth": 1.3, "labelFontSize": 17, "labelOffset": 4, "padding": 0, "labelLimit": 400}}}},
  {"data": {"name": "aT"}, "mark": {"type": "text", "align": "left", "baseline": "middle"}, "encoding": {"text": {"field": "t"}}},
  {"data": {"name": "aA"}, "mark": {"type": "rule", "color": "black", "strokeWidth": 1}, "encoding": {"x2": {"field": "e2"}, "y2": {"field": "i2"}}},
  {"data": {"name": "aA"}, "transform": [{"calculate": "atan2(-(datum.e2-datum.e)*521/1200, (datum.i2-datum.i)*3.95)*180/PI", "as": "ang"}], "mark": {"type": "point", "shape": "triangle-up", "filled": true, "color": "black", "size": 30, "opacity": 1}, "encoding": {"x": {"field": "e2", "type": "quantitative", "title": "Binding Energy (eV)", "scale": {"domain": [1200, 0], "nice": false, "zero": false}}, "y": {"field": "i2", "type": "quantitative", "title": "Relative Intensity (CPS)", "scale": {"domain": [0, 100], "nice": false}}, "angle": {"field": "ang", "type": "quantitative", "scale": null}}}
 ]},
{"width": 521, "height": 395,
 "encoding": {"x": {"field": "e", "type": "quantitative", "title": "Binding Energy (eV)", "scale": {"domain": [1200, 0], "nice": false, "zero": false}}, "y": {"field": "i", "type": "quantitative", "title": "Relative Intensity (CPS)", "scale": {"domain": [0, 100], "nice": false}}},
 "layer": [
  {"data": {"name": "b"}, "mark": {"type": "line", "strokeWidth": 1.4}, "encoding": {"color": {"datum": "α-(Ag₁.₉₇Sm₀.₀₁)WO₄", "type": "nominal", "scale": {"range": ["#FF8000"]}, "legend": {"orient": "none", "legendX": 10, "legendY": -4, "title": null, "symbolType": "stroke", "symbolSize": 1900, "symbolStrokeWidth": 1.3, "labelFontSize": 17, "labelOffset": 4, "padding": 0, "labelLimit": 400}}}},
  {"data": {"name": "bT"}, "mark": {"type": "text", "align": "left", "baseline": "middle"}, "encoding": {"text": {"field": "t"}}},
  {"data": {"name": "bA"}, "mark": {"type": "rule", "color": "black", "strokeWidth": 1}, "encoding": {"x2": {"field": "e2"}, "y2": {"field": "i2"}}},
  {"data": {"name": "bA"}, "transform": [{"calculate": "atan2(-(datum.e2-datum.e)*521/1200, (datum.i2-datum.i)*3.95)*180/PI", "as": "ang"}], "mark": {"type": "point", "shape": "triangle-up", "filled": true, "color": "black", "size": 30, "opacity": 1}, "encoding": {"x": {"field": "e2", "type": "quantitative", "title": "Binding Energy (eV)", "scale": {"domain": [1200, 0], "nice": false, "zero": false}}, "y": {"field": "i2", "type": "quantitative", "title": "Relative Intensity (CPS)", "scale": {"domain": [0, 100], "nice": false}}, "angle": {"field": "ang", "type": "quantitative", "scale": null}}}
 ]},
{"width": 521, "height": 395,
 "encoding": {"x": {"field": "e", "type": "quantitative", "title": "Binding Energy (eV)", "scale": {"domain": [1200, 0], "nice": false, "zero": false}}, "y": {"field": "i", "type": "quantitative", "title": "Relative Intensity (CPS)", "scale": {"domain": [0, 100], "nice": false}}},
 "layer": [
  {"data": {"name": "c"}, "mark": {"type": "line", "strokeWidth": 1.4}, "encoding": {"color": {"datum": "α-(Ag₁.₉₇Eu₀.₀₁)WO₄", "type": "nominal", "scale": {"range": ["#FF0000"]}, "legend": {"orient": "none", "legendX": 10, "legendY": -2, "title": null, "symbolType": "stroke", "symbolSize": 1900, "symbolStrokeWidth": 1.3, "labelFontSize": 17, "labelOffset": 4, "padding": 0, "labelLimit": 400}}}},
  {"data": {"name": "cT"}, "mark": {"type": "text", "align": "left", "baseline": "middle"}, "encoding": {"text": {"field": "t"}}},
  {"data": {"name": "cA"}, "mark": {"type": "rule", "color": "black", "strokeWidth": 1}, "encoding": {"x2": {"field": "e2"}, "y2": {"field": "i2"}}},
  {"data": {"name": "cA"}, "transform": [{"calculate": "atan2(-(datum.e2-datum.e)*521/1200, (datum.i2-datum.i)*3.95)*180/PI", "as": "ang"}], "mark": {"type": "point", "shape": "triangle-up", "filled": true, "color": "black", "size": 30, "opacity": 1}, "encoding": {"x": {"field": "e2", "type": "quantitative", "title": "Binding Energy (eV)", "scale": {"domain": [1200, 0], "nice": false, "zero": false}}, "y": {"field": "i2", "type": "quantitative", "title": "Relative Intensity (CPS)", "scale": {"domain": [0, 100], "nice": false}}, "angle": {"field": "ang", "type": "quantitative", "scale": null}}}
 ]},
{"width": 521, "height": 395,
 "encoding": {"x": {"field": "e", "type": "quantitative", "title": "Binding Energy (eV)", "scale": {"domain": [1200, 0], "nice": false, "zero": false}}, "y": {"field": "i", "type": "quantitative", "title": "Relative Intensity (CPS)", "scale": {"domain": [0, 100], "nice": false}}},
 "layer": [
  {"data": {"name": "d"}, "mark": {"type": "line", "strokeWidth": 1.4}, "encoding": {"color": {"datum": "α-(Ag₁.₉₇Tb₀.₀₁)WO₄", "type": "nominal", "scale": {"range": ["#008000"]}, "legend": {"orient": "none", "legendX": 13, "legendY": -4, "title": null, "symbolType": "stroke", "symbolSize": 1900, "symbolStrokeWidth": 1.3, "labelFontSize": 17, "labelOffset": 4, "padding": 0, "labelLimit": 400}}}},
  {"data": {"name": "dT"}, "mark": {"type": "text", "align": "left", "baseline": "middle"}, "encoding": {"text": {"field": "t"}}},
  {"data": {"name": "dA"}, "mark": {"type": "rule", "color": "black", "strokeWidth": 1}, "encoding": {"x2": {"field": "e2"}, "y2": {"field": "i2"}}},
  {"data": {"name": "dA"}, "transform": [{"calculate": "atan2(-(datum.e2-datum.e)*521/1200, (datum.i2-datum.i)*3.95)*180/PI", "as": "ang"}], "mark": {"type": "point", "shape": "triangle-up", "filled": true, "color": "black", "size": 30, "opacity": 1}, "encoding": {"x": {"field": "e2", "type": "quantitative", "title": "Binding Energy (eV)", "scale": {"domain": [1200, 0], "nice": false, "zero": false}}, "y": {"field": "i2", "type": "quantitative", "title": "Relative Intensity (CPS)", "scale": {"domain": [0, 100], "nice": false}}, "angle": {"field": "ang", "type": "quantitative", "scale": null}}}
 ]},
{"width": 521, "height": 395,
 "encoding": {"x": {"field": "e", "type": "quantitative", "title": "Binding Energy (eV)", "scale": {"domain": [1200, 0], "nice": false, "zero": false}}, "y": {"field": "i", "type": "quantitative", "title": "Relative Intensity (CPS)", "scale": {"domain": [0, 100], "nice": false}}},
 "layer": [
  {"data": {"name": "e"}, "mark": {"type": "line", "strokeWidth": 1.4}, "encoding": {"color": {"datum": "α-(Ag₁.₉₇Dy₀.₀₁)WO₄", "type": "nominal", "scale": {"range": ["#808000"]}, "legend": {"orient": "none", "legendX": 8, "legendY": -4, "title": null, "symbolType": "stroke", "symbolSize": 1900, "symbolStrokeWidth": 1.3, "labelFontSize": 17, "labelOffset": 4, "padding": 0, "labelLimit": 400}}}},
  {"data": {"name": "eT"}, "mark": {"type": "text", "align": "left", "baseline": "middle"}, "encoding": {"text": {"field": "t"}}},
  {"data": {"name": "eA"}, "mark": {"type": "rule", "color": "black", "strokeWidth": 1}, "encoding": {"x2": {"field": "e2"}, "y2": {"field": "i2"}}},
  {"data": {"name": "eA"}, "transform": [{"calculate": "atan2(-(datum.e2-datum.e)*521/1200, (datum.i2-datum.i)*3.95)*180/PI", "as": "ang"}], "mark": {"type": "point", "shape": "triangle-up", "filled": true, "color": "black", "size": 30, "opacity": 1}, "encoding": {"x": {"field": "e2", "type": "quantitative", "title": "Binding Energy (eV)", "scale": {"domain": [1200, 0], "nice": false, "zero": false}}, "y": {"field": "i2", "type": "quantitative", "title": "Relative Intensity (CPS)", "scale": {"domain": [0, 100], "nice": false}}, "angle": {"field": "ang", "type": "quantitative", "scale": null}}}
 ]},
{"width": 521, "height": 395,
 "encoding": {"x": {"field": "e", "type": "quantitative", "title": "Binding Energy (eV)", "scale": {"domain": [1200, 0], "nice": false, "zero": false}}, "y": {"field": "i", "type": "quantitative", "title": "Relative Intensity (CPS)", "scale": {"domain": [0, 100], "nice": false}}},
 "layer": [
  {"data": {"name": "f"}, "mark": {"type": "line", "strokeWidth": 1.4}, "encoding": {"color": {"datum": "α-(Ag₁.₉₇Tm₀.₀₁)WO₄", "type": "nominal", "scale": {"range": ["#000080"]}, "legend": {"orient": "none", "legendX": 7, "legendY": -4, "title": null, "symbolType": "stroke", "symbolSize": 1900, "symbolStrokeWidth": 1.3, "labelFontSize": 17, "labelOffset": 4, "padding": 0, "labelLimit": 400}}}},
  {"data": {"name": "fT"}, "mark": {"type": "text", "align": "left", "baseline": "middle"}, "encoding": {"text": {"field": "t"}}},
  {"data": {"name": "fA"}, "mark": {"type": "rule", "color": "black", "strokeWidth": 1}, "encoding": {"x2": {"field": "e2"}, "y2": {"field": "i2"}}},
  {"data": {"name": "fA"}, "transform": [{"calculate": "atan2(-(datum.e2-datum.e)*521/1200, (datum.i2-datum.i)*3.95)*180/PI", "as": "ang"}], "mark": {"type": "point", "shape": "triangle-up", "filled": true, "color": "black", "size": 30, "opacity": 1}, "encoding": {"x": {"field": "e2", "type": "quantitative", "title": "Binding Energy (eV)", "scale": {"domain": [1200, 0], "nice": false, "zero": false}}, "y": {"field": "i2", "type": "quantitative", "title": "Relative Intensity (CPS)", "scale": {"domain": [0, 100], "nice": false}}, "angle": {"field": "ang", "type": "quantitative", "scale": null}}}
 ]}
]
}
